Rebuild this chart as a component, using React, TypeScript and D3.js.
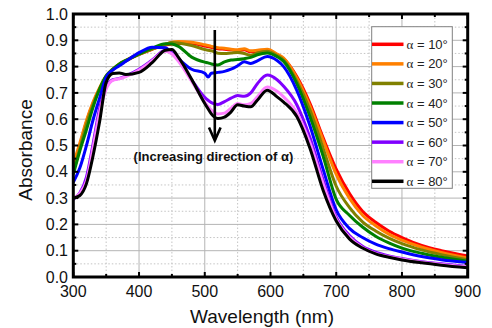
import React from "react";
import * as d3 from "d3";

const wavelengths = [300, 310, 320, 330, 340, 350, 360, 370, 380, 400, 420, 440, 450, 460, 480, 500, 505, 510, 520, 530, 540, 550, 560, 570, 580, 595, 610, 620, 640, 660, 680, 700, 720, 740, 760, 780, 800, 830, 860, 900];

const a10 = [0.42, 0.50, 0.59, 0.66, 0.715, 0.76, 0.788, 0.808, 0.822, 0.846, 0.866, 0.882, 0.886, 0.888, 0.888, 0.878, 0.876, 0.873, 0.868, 0.866, 0.864, 0.861, 0.864, 0.856, 0.858, 0.862, 0.845, 0.83, 0.762, 0.66, 0.53, 0.41, 0.318, 0.25, 0.208, 0.175, 0.15, 0.12, 0.10, 0.08];
const a20 = [0.43, 0.51, 0.595, 0.665, 0.72, 0.765, 0.79, 0.81, 0.824, 0.848, 0.868, 0.884, 0.893, 0.895, 0.893, 0.883, 0.88, 0.877, 0.872, 0.87, 0.866, 0.864, 0.868, 0.86, 0.862, 0.866, 0.848, 0.832, 0.757, 0.65, 0.52, 0.39, 0.30, 0.235, 0.195, 0.163, 0.14, 0.113, 0.093, 0.072];
const a30 = [0.40, 0.49, 0.58, 0.655, 0.715, 0.762, 0.788, 0.808, 0.822, 0.846, 0.867, 0.884, 0.892, 0.89, 0.88, 0.865, 0.862, 0.86, 0.851, 0.85, 0.852, 0.854, 0.85, 0.843, 0.852, 0.858, 0.842, 0.825, 0.745, 0.635, 0.49, 0.345, 0.265, 0.21, 0.175, 0.148, 0.127, 0.103, 0.085, 0.066];
const a40 = [0.39, 0.48, 0.56, 0.645, 0.715, 0.765, 0.79, 0.81, 0.824, 0.848, 0.87, 0.887, 0.886, 0.877, 0.836, 0.817, 0.814, 0.81, 0.806, 0.818, 0.825, 0.827, 0.83, 0.835, 0.845, 0.852, 0.838, 0.82, 0.735, 0.61, 0.46, 0.295, 0.235, 0.19, 0.155, 0.13, 0.11, 0.09, 0.075, 0.06];
const a50 = [0.36, 0.415, 0.50, 0.597, 0.68, 0.76, 0.787, 0.803, 0.82, 0.853, 0.874, 0.872, 0.852, 0.83, 0.79, 0.775, 0.76, 0.775, 0.778, 0.782, 0.79, 0.803, 0.818, 0.812, 0.822, 0.838, 0.823, 0.80, 0.71, 0.575, 0.41, 0.255, 0.185, 0.15, 0.125, 0.108, 0.095, 0.078, 0.066, 0.055];
const a60 = [0.295, 0.32, 0.38, 0.505, 0.64, 0.72, 0.75, 0.755, 0.765, 0.79, 0.825, 0.862, 0.852, 0.825, 0.75, 0.683, 0.672, 0.663, 0.656, 0.667, 0.68, 0.69, 0.687, 0.70, 0.735, 0.768, 0.75, 0.725, 0.655, 0.53, 0.37, 0.228, 0.158, 0.117, 0.094, 0.08, 0.07, 0.058, 0.05, 0.04];
const a70 = [0.30, 0.318, 0.365, 0.49, 0.625, 0.715, 0.748, 0.754, 0.762, 0.787, 0.822, 0.858, 0.848, 0.82, 0.745, 0.665, 0.648, 0.635, 0.62, 0.623, 0.642, 0.66, 0.655, 0.66, 0.685, 0.722, 0.706, 0.685, 0.625, 0.51, 0.355, 0.22, 0.152, 0.112, 0.09, 0.077, 0.068, 0.056, 0.048, 0.038];
const a80 = [0.30, 0.31, 0.355, 0.46, 0.59, 0.74, 0.774, 0.776, 0.77, 0.778, 0.815, 0.862, 0.865, 0.835, 0.752, 0.66, 0.64, 0.62, 0.603, 0.608, 0.628, 0.655, 0.65, 0.647, 0.672, 0.71, 0.685, 0.665, 0.61, 0.49, 0.33, 0.213, 0.145, 0.11, 0.088, 0.075, 0.065, 0.054, 0.045, 0.035];

const seriesValues = [a10, a20, a30, a40, a50, a60, a70, a80];
const seriesLabels = ["10", "20", "30", "40", "50", "60", "70", "80"];
const seriesColors = ["#ff0000", "#ff8000", "#808000", "#008000", "#0000ff", "#8000ff", "#ff80ff", "#000000"];

const xTickLabels = [300, 400, 500, 600, 700, 800, 900];
const xMinorTicks = [350, 450, 550, 650, 750, 850];
const yTickLabels = [0.0, 0.1, 0.2, 0.3, 0.4, 0.5, 0.6, 0.7, 0.8, 0.9, 1.0];
const yMinorTicks = [0.05, 0.15, 0.25, 0.35, 0.45, 0.55, 0.65, 0.75, 0.85, 0.95];

const FONT = "'Liberation Sans', Arial, sans-serif";

export default function App() {
  const L = 73.3, R = 467.7, T = 14, B = 277;
  const x = d3.scaleLinear().domain([300, 900]).range([L, R]);
  const y = d3.scaleLinear().domain([0, 1]).range([B, T]);
  const line = d3
    .line<number>()
    .x((_, i) => x(wavelengths[i]))
    .y((d) => y(d))
    .curve(d3.curveMonotoneX);

  const legX = 371.7, legY = 26.7, legW = 80.6, legH = 161.6;
  const rowY = (i: number) => 44.3 + i * 19.57;

  return (
    <svg width={492} height={328} style={{ position: "absolute", left: 0, top: 0, background: "#fff" }}>
      <rect x={0} y={0} width={492} height={328} fill="#fff" />
      {/* minor grid */}
      {xMinorTicks.map((t) => (
        <line key={"gxm" + t} x1={x(t)} x2={x(t)} y1={T} y2={B} stroke="#c4c4c4" strokeWidth={1} strokeDasharray="1.5,2" />
      ))}
      {yMinorTicks.map((t) => (
        <line key={"gym" + t} x1={L} x2={R} y1={y(t)} y2={y(t)} stroke="#c4c4c4" strokeWidth={1} strokeDasharray="1.5,2" />
      ))}
      {/* major grid */}
      {xTickLabels.map((t) => (
        <line key={"gx" + t} x1={x(t)} x2={x(t)} y1={T} y2={B} stroke="#b4b4b4" strokeWidth={1} />
      ))}
      {yTickLabels.map((t) => (
        <line key={"gy" + t} x1={L} x2={R} y1={y(t)} y2={y(t)} stroke="#b4b4b4" strokeWidth={1} />
      ))}

      {/* curves */}
      {seriesValues.map((vals, i) => (
        <path key={"s" + i} d={line(vals) || ""} fill="none" stroke={seriesColors[i]} strokeWidth={3} strokeLinejoin="round" />
      ))}

      {/* ticks (inward) */}
      {xTickLabels.map((t) => (
        <g key={"tx" + t}>
          <line x1={x(t)} x2={x(t)} y1={B} y2={B - 5} stroke="#000" strokeWidth={2} />
          <line x1={x(t)} x2={x(t)} y1={T} y2={T + 5} stroke="#000" strokeWidth={2} />
        </g>
      ))}
      {xMinorTicks.map((t) => (
        <g key={"txm" + t}>
          <line x1={x(t)} x2={x(t)} y1={B} y2={B - 3} stroke="#000" strokeWidth={2} />
          <line x1={x(t)} x2={x(t)} y1={T} y2={T + 3} stroke="#000" strokeWidth={2} />
        </g>
      ))}
      {yTickLabels.map((t) => (
        <g key={"ty" + t}>
          <line x1={L} x2={L + 5} y1={y(t)} y2={y(t)} stroke="#000" strokeWidth={2} />
          <line x1={R} x2={R - 5} y1={y(t)} y2={y(t)} stroke="#000" strokeWidth={2} />
        </g>
      ))}
      {yMinorTicks.map((t) => (
        <g key={"tym" + t}>
          <line x1={L} x2={L + 3} y1={y(t)} y2={y(t)} stroke="#000" strokeWidth={2} />
          <line x1={R} x2={R - 3} y1={y(t)} y2={y(t)} stroke="#000" strokeWidth={2} />
        </g>
      ))}

      {/* frame */}
      <rect x={L} y={T} width={R - L} height={B - T} fill="none" stroke="#000" strokeWidth={3} />

      {/* tick labels */}
      {xTickLabels.map((t) => (
        <text key={"lx" + t} x={x(t)} y={297} textAnchor="middle" fontFamily={FONT} fontSize={16} fill="#111">
          {t}
        </text>
      ))}
      {yTickLabels.map((t) => (
        <text key={"ly" + t} x={68} y={y(t) + 5.6} textAnchor="end" fontFamily={FONT} fontSize={16} fill="#111">
          {t.toFixed(1)}
        </text>
      ))}

      {/* axis titles */}
      <text x={262} y={323} textAnchor="middle" fontFamily={FONT} fontSize={19} fill="#111">
        Wavelength (nm)
      </text>
      <text transform={`translate(32,${150}) rotate(-90)`} textAnchor="middle" fontFamily={FONT} fontSize={19} fill="#111">
        Absorbance
      </text>

      {/* legend */}
      <rect x={legX} y={legY} width={legW} height={legH} fill="#fff" stroke="#808080" strokeWidth={1} />
      {seriesLabels.map((lab, i) => (
        <g key={"lg" + i}>
          <line x1={372} x2={403.5} y1={rowY(i)} y2={rowY(i)} stroke={seriesColors[i]} strokeWidth={3.5} />
          <text x={406.5} y={rowY(i) + 4.6} fontFamily={FONT} fontSize={13} fill="#222">
            <tspan fontFamily="'Liberation Serif', 'DejaVu Serif', serif">α</tspan>
            <tspan> = {lab}°</tspan>
          </text>
        </g>
      ))}

      {/* annotation arrow */}
      <line x1={214.8} x2={214.8} y1={30} y2={140} stroke="#000" strokeWidth={2.6} />
      <polyline points="209,127.5 214.8,140.5 220.6,127.5" fill="none" stroke="#000" strokeWidth={2.6} strokeLinejoin="miter" />
      <text x={213.4} y={161} textAnchor="middle" fontFamily={FONT} fontSize={13} fontWeight="bold" fill="#111">
        (Increasing direction of α)
      </text>
    </svg>
  );
}
